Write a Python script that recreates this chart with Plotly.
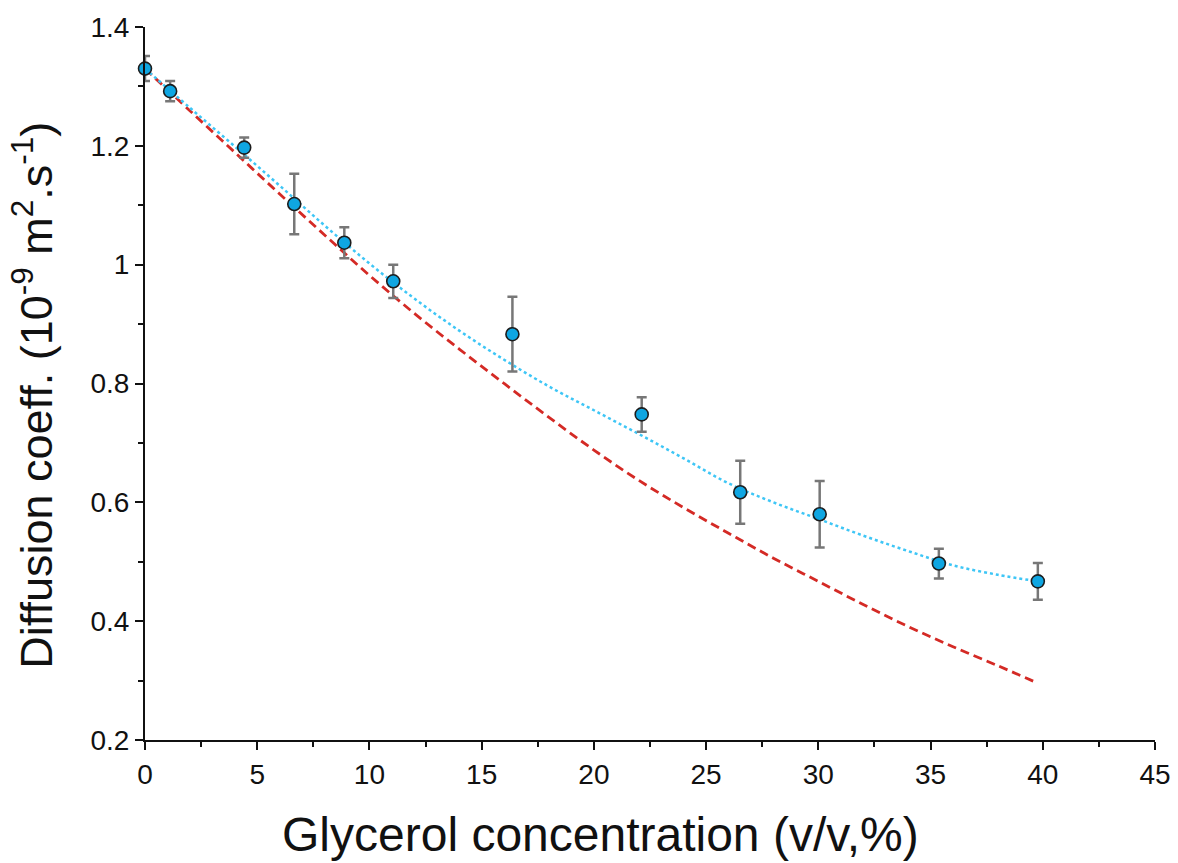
import plotly.graph_objects as go

# Measured data (glycerol %, diffusion coeff, error)
conc = [0, 1.12, 4.42, 6.65, 8.88, 11.06, 16.37, 22.13, 26.52, 30.06, 35.37, 39.78]
diff = [1.330, 1.292, 1.197, 1.102, 1.037, 0.972, 0.883, 0.748, 0.617, 0.580, 0.497, 0.467]
err = [0.021, 0.017, 0.017, 0.051, 0.026, 0.028, 0.063, 0.029, 0.053, 0.056, 0.025, 0.031]

# Fitted curve (blue dotted)
fit_x = [0, 2, 4, 6, 8, 10, 12, 14, 16, 18, 20, 22, 24, 26, 28, 30, 32, 34, 36, 38, 39.8]
fit_y = [1.330, 1.264, 1.199, 1.133, 1.066, 1.002, 0.943, 0.889, 0.840, 0.795, 0.755,
         0.715, 0.674, 0.632, 0.600, 0.572, 0.544, 0.518, 0.494, 0.478, 0.467]

# Model curve (red dashed)
model_x = [0, 2, 4, 6, 8, 10, 12, 14, 16, 18, 20, 22, 24, 26, 28, 30, 32, 34, 36, 38, 39.7]
model_y = [1.330, 1.259, 1.189, 1.119, 1.050, 0.982, 0.918, 0.858, 0.800, 0.743, 0.688,
           0.637, 0.591, 0.548, 0.506, 0.467, 0.428, 0.391, 0.357, 0.325, 0.297]

x_ticks = [0, 5, 10, 15, 20, 25, 30, 35, 40, 45]
y_ticks = [0.2, 0.4, 0.6, 0.8, 1.0, 1.2, 1.4]
y_ticktext = ["0.2", "0.4", "0.6", "0.8", "1", "1.2", "1.4"]

x_title = "Glycerol concentration (v/v,%)"
y_title = "Diffusion coeff. (10<sup>-9</sup> m<sup>2</sup>.s<sup>-1</sup>)"

FONT = "Arial, 'Liberation Sans', sans-serif"
INK = "#111111"

fig = go.Figure()
fig.add_trace(go.Scatter(x=model_x, y=model_y, mode="lines",
                         line=dict(color="#D42A25", width=2.8, dash="9px,5px", shape="spline"),
                         showlegend=False, hoverinfo="skip"))
fig.add_trace(go.Scatter(x=fit_x, y=fit_y, mode="lines",
                         line=dict(color="#3EC6F6", width=2.5, dash="dot", shape="spline"),
                         showlegend=False, hoverinfo="skip"))
fig.add_trace(go.Scatter(x=conc, y=diff, mode="markers",
                         marker=dict(size=13, color="#0FA6E2", line=dict(color="#1c1c1c", width=1.6)),
                         error_y=dict(type="data", array=err, visible=True, color="#777777",
                                      thickness=2.5, width=5),
                         cliponaxis=False, showlegend=False))

fig.update_layout(
    width=1178, height=863,
    margin=dict(l=145, r=23, t=27, b=123),
    paper_bgcolor="white", plot_bgcolor="white",
    font=dict(family=FONT, color=INK, size=28),
    xaxis=dict(range=[0, 45], tickvals=x_ticks, showline=True, linecolor=INK, linewidth=2,
               ticks="outside", ticklen=8, tickwidth=2, tickcolor=INK,
               minor=dict(ticks="outside", ticklen=5, tickwidth=2, dtick=2.5, tickcolor=INK),
               showgrid=False, zeroline=False, automargin=False,
               tickfont=dict(size=28, color=INK, family=FONT)),
    yaxis=dict(range=[0.2, 1.4], tickvals=y_ticks, ticktext=y_ticktext,
               showline=True, linecolor=INK, linewidth=2,
               ticks="outside", ticklen=8, tickwidth=2, tickcolor=INK,
               minor=dict(ticks="outside", ticklen=5, tickwidth=2, dtick=0.1, tickcolor=INK),
               showgrid=False, zeroline=False, automargin=False,
               tickfont=dict(size=28, color=INK, family=FONT)),
    annotations=[
        dict(text=x_title, xref="paper", yref="paper", x=0.4505, y=-0.133,
             xanchor="center", yanchor="middle", showarrow=False,
             font=dict(size=48, color=INK, family=FONT)),
        dict(text=y_title, xref="paper", yref="paper", x=-0.111, y=0.484,
             xanchor="center", yanchor="middle", textangle=-90, showarrow=False,
             font=dict(size=45, color=INK, family=FONT)),
    ],
)

fig.write_html("out.html")
